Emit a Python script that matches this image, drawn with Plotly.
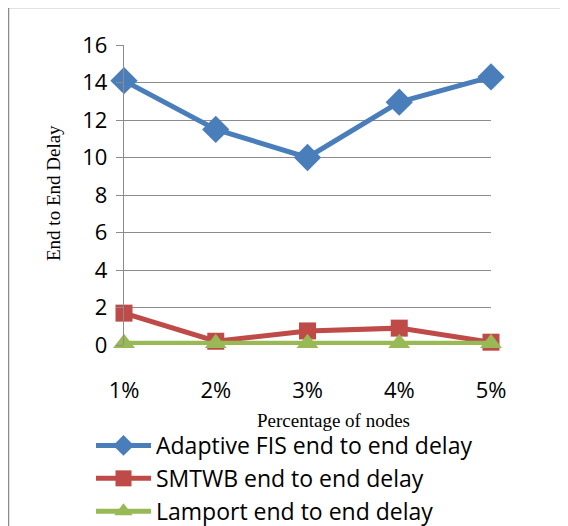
import plotly.graph_objects as go

categories = ["1%", "2%", "3%", "4%", "5%"]
adaptive = [14.1, 11.5, 10.0, 12.95, 14.3]
smtwb = [1.7, 0.2, 0.75, 0.9, 0.15]
lamport = [0.1, 0.1, 0.1, 0.1, 0.1]
y_ticks = [0, 2, 4, 6, 8, 10, 12, 14, 16]

xs = list(range(len(categories)))

fig = go.Figure()
series = [
    ("Adaptive FIS end to end delay", adaptive, "#4A7EBB", "diamond", 21),
    ("SMTWB end to end delay", smtwb, "#BE4B48", "square", 17),
    ("Lamport end to end delay", lamport, "#98B954", "triangle-up", 19),
]
for name, vals, col, sym, sz in series:
    fig.add_trace(go.Scatter(
        x=xs, y=vals, name=name, mode="lines+markers",
        line=dict(color=col, width=5),
        marker=dict(symbol=sym, size=sz, color=col),
        cliponaxis=False,
    ))

W, H = 568, 526
fig.update_layout(
    width=W, height=H,
    margin=dict(l=116, r=85, t=37, b=189, autoexpand=False),
    paper_bgcolor="white", plot_bgcolor="white",
    font=dict(family="Open Sans", color="black"),
    showlegend=True,
    legend=dict(x=83 / W, y=(H - 416) / H, xref="container", yref="container",
                xanchor="left", yanchor="top", itemwidth=55,
                font=dict(size=23, family="Open Sans"),
                tracegroupgap=0, bgcolor="rgba(0,0,0,0)"),
    xaxis=dict(range=[0, 4], tickvals=xs, ticktext=categories,
               showgrid=False, zeroline=False, showline=False,
               ticks="", tickfont=dict(size=22), ticklabelstandoff=30),
    yaxis=dict(range=[0, 16], tickvals=y_ticks, showgrid=True,
               gridcolor="#8c8c8c", gridwidth=1.3, zeroline=False,
               showline=True, linecolor="#8c8c8c", linewidth=1.3,
               ticks="outside", ticklen=7, tickcolor="#8c8c8c",
               tickfont=dict(size=22), ticklabelstandoff=4),
    annotations=[
        dict(text="End to End Delay", xref="paper", yref="paper",
             x=(53 - 124) / 367, y=(345 - 193) / 300, textangle=-90,
             xanchor="center", yanchor="middle",
             showarrow=False, font=dict(family="Liberation Serif", size=19)),
        dict(text="Percentage of nodes", xref="paper", yref="paper",
             x=(333 - 124) / 367, y=(345 - 420) / 300,
             xanchor="center", yanchor="middle",
             showarrow=False, font=dict(family="Liberation Serif", size=19)),
    ],
    shapes=[
        dict(type="rect", xref="paper", yref="paper",
             x0=(8 - 124) / 367, x1=(600 - 124) / 367,
             y0=(345 - 560) / 300, y1=(345 - 7) / 300,
             line=dict(color="#8a8a8a", width=2.5), fillcolor="rgba(0,0,0,0)",
             layer="above"),
    ],
)

fig.write_html("out.html")
